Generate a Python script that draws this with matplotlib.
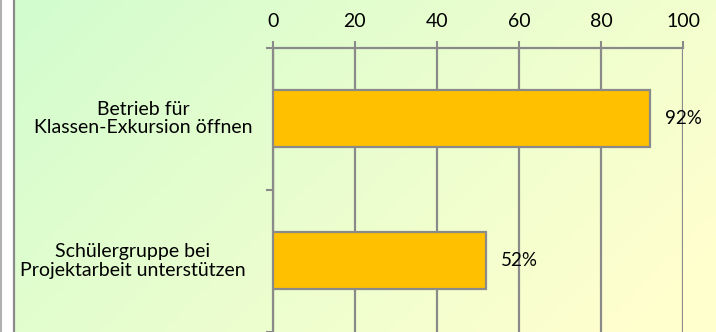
import numpy as np
import matplotlib
matplotlib.use('Agg')
import matplotlib.pyplot as plt
import matplotlib.transforms as mtransforms

# Umfrage: Bereitschaft der Betriebe
labels = ['Betrieb für\nKlassen-Exkursion öffnen',
          'Schülergruppe bei\nProjektarbeit unterstützen']
values = [92, 52]
xticks = [0, 20, 40, 60, 80, 100]

plt.rcParams['font.family'] = ['Lato', 'DejaVu Sans']
GRAY = '#8a8a8a'

fig = plt.figure(figsize=(7.16, 3.32), dpi=100)

# Hintergrund mit Farbverlauf (grün oben links -> gelb unten rechts)
bg = fig.add_axes([0, 0, 1, 1], zorder=-10)
xx, yy = np.meshgrid(np.linspace(0, 1, 200), np.linspace(0, 1, 100))
t = np.clip(0.75 * xx + 0.35 * yy, 0, 1)[..., None]
c0 = np.array([0.82, 0.99, 0.81])
c1 = np.array([1.00, 1.00, 0.81])
bg.imshow(c0 * (1 - t) + c1 * t, aspect='auto', extent=[0, 1, 1, 0])
bg.axis('off')

# Rand links
fig.patches.append(plt.Rectangle((0, 0), 13 / 716, 1, transform=fig.transFigure,
                                 facecolor='white', edgecolor='none', zorder=-5))
fig.add_artist(plt.Line2D([1 / 716, 1 / 716], [0, 1], color='#b0b0b0', lw=1.5))
fig.add_artist(plt.Line2D([14 / 716, 14 / 716], [0, 1], color=GRAY, lw=1.6))

ax = fig.add_axes([272.7 / 716, 0.0, (683 - 272.7) / 716, (331 - 46.7) / 332])
ax.patch.set_alpha(0)

ypos = np.arange(len(values))
ax.barh(ypos, values, height=0.4, color='#FFC000', edgecolor=GRAY, linewidth=1.6, zorder=3)
ax.set_xlim(0, 100)
ax.set_ylim(len(values) - 0.5, -0.5)

ax.set_xticks(xticks)
ax.xaxis.tick_top()
ax.tick_params(axis='x', direction='out', length=5, width=1.5, color=GRAY,
               labelsize=14, pad=8)
ax.set_yticks(np.arange(len(values) + 1) - 0.5)
ax.set_yticklabels([])
ax.tick_params(axis='y', direction='out', length=5, width=1.5, color=GRAY)
ax.grid(axis='x', color=GRAY, linewidth=1.6, zorder=0)
for side in ['bottom', 'right']:
    ax.spines[side].set_visible(False)
for side in ['top', 'left']:
    ax.spines[side].set_color(GRAY)
    ax.spines[side].set_linewidth(1.6)

# Wertbeschriftung
for y, v in zip(ypos, values):
    ax.annotate('%d%%' % v, xy=(v, y), xytext=(11, 0), textcoords='offset points',
                va='center', ha='left', fontsize=13.5, zorder=5)

# Kategorien
trans = mtransforms.blended_transform_factory(fig.transFigure, ax.transData)
for y, lab, cx in zip(ypos, labels, [143, 132.5]):
    fig.text(cx / 716, y, lab, transform=trans, ha='center', va='center',
             multialignment='center', fontsize=14, linespacing=1.1)

fig.savefig('out.png', dpi=100)
